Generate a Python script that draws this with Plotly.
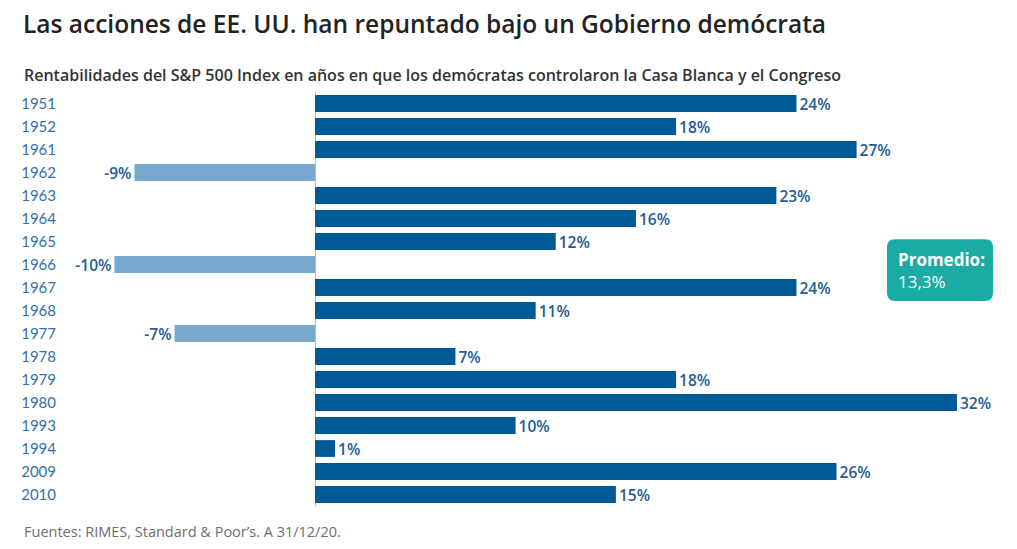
import plotly.graph_objects as go

years = ["1951", "1952", "1961", "1962", "1963", "1964", "1965", "1966", "1967",
         "1968", "1977", "1978", "1979", "1980", "1993", "1994", "2009", "2010"]
returns = [24, 18, 27, -9, 23, 16, 12, -10, 24, 11, -7, 7, 18, 32, 10, 1, 26, 15]
average_label = "13,3%"

title = "Las acciones de EE. UU. han repuntado bajo un Gobierno demócrata"
subtitle = "Rentabilidades del S&P 500 Index en años en que los demócratas controlaron la Casa Blanca y el Congreso"
footer = "Fuentes: RIMES, Standard & Poor’s. A 31/12/20."

DARK = "#005A97"
LIGHT = "#76A9CD"
LABEL = "#245C94"
YEARC = "#3270AB"
FONT = "Lato"
FONT2 = "Open Sans"

colors = [DARK if v >= 0 else LIGHT for v in returns]
texts = [f"{v}%" for v in returns]

OFF = 8  # page body offset
W, H = 1017 - OFF, 549 - OFF
L, R, T, B = 62 - OFF, 1000 - OFF, 91.5 - OFF, 506.5 - OFF
zero_px = 315 - OFF
ppp = 20.06
xmin = (L - zero_px) / ppp
xmax = (R - zero_px) / ppp


def px(x):
    return (x - OFF - L) / (R - L)


def py(y):
    return (B - (y - OFF)) / (B - T)


fig = go.Figure(go.Bar(
    y=years, x=returns, orientation="h",
    marker=dict(color=colors, line=dict(width=0)),
    text=texts, textposition="outside", cliponaxis=False, constraintext="none",
    textfont=dict(family=FONT2, size=15.5, color=LABEL, weight=600),
    width=0.73,
))

fig.update_layout(
    width=W, height=H,
    margin=dict(l=L, r=W - R, t=T, b=H - B, pad=0),
    paper_bgcolor="white", plot_bgcolor="white",
    showlegend=False,
    xaxis=dict(range=[xmin, xmax], showgrid=False, showticklabels=False,
               zeroline=True, zerolinecolor="#BDBDBD", zerolinewidth=1, fixedrange=True),
    yaxis=dict(autorange=False, range=[17.5, -0.5], showgrid=False, ticks="", ticklen=0,
               tickfont=dict(family=FONT, size=15, color=YEARC),
               ticklabelstandoff=5),
)

fig.add_annotation(text=title, xref="paper", yref="paper",
                   x=px(22), y=py(OFF - 3),
                   xanchor="left", yanchor="top", showarrow=False, borderpad=0,
                   font=dict(family=FONT2, size=24.5, color="#222222", weight=600))
fig.add_annotation(text=subtitle, xref="paper", yref="paper",
                   x=px(22), y=py(74),
                   xanchor="left", yanchor="middle", showarrow=False,
                   font=dict(family=FONT2, size=16, color="#333333", weight=600))
fig.add_annotation(text=footer, xref="paper", yref="paper",
                   x=px(22), y=py(532),
                   xanchor="left", yanchor="middle", showarrow=False,
                   font=dict(family=FONT2, size=14.5, color="#6E6E6E"))

# rounded box
bx0, bx1, by0, by1 = 887, 993, 239, 301
rad = 8
path = (f"M {px(bx0+rad)} {py(by0)} L {px(bx1-rad)} {py(by0)} "
        f"Q {px(bx1)} {py(by0)} {px(bx1)} {py(by0+rad)} "
        f"L {px(bx1)} {py(by1-rad)} Q {px(bx1)} {py(by1)} {px(bx1-rad)} {py(by1)} "
        f"L {px(bx0+rad)} {py(by1)} Q {px(bx0)} {py(by1)} {px(bx0)} {py(by1-rad)} "
        f"L {px(bx0)} {py(by0+rad)} Q {px(bx0)} {py(by0)} {px(bx0+rad)} {py(by0)} Z")
fig.add_shape(type="path", path=path, xref="paper", yref="paper",
              fillcolor="#19ABA4", line=dict(width=0), layer="above")
fig.add_annotation(text=f"<b>Promedio:</b><br>{average_label}", xref="paper", yref="paper",
                   x=px(896), y=py(270), xanchor="left", yanchor="middle", align="left",
                   showarrow=False,
                   font=dict(family=FONT2, size=17, color="white"))

fig.write_html("out.html")
